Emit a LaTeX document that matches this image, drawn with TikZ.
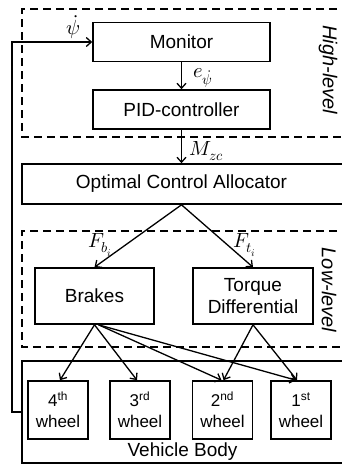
\documentclass[tikz,border=0pt]{standalone}
\usepackage{fontspec}
\usepackage{unicode-math}
\setmainfont{Liberation Sans}
\setmathfont{Latin Modern Math}
\usetikzlibrary{arrows.meta,calc}
\begin{document}
\begin{tikzpicture}[x=1pt,y=-1pt,
  blk/.style={draw,line width=1.6pt,inner sep=0pt,align=center,
    font=\fontsize{19}{22}\selectfont},
  whl/.style={draw,line width=1.6pt,inner sep=0pt,align=center,
    minimum width=60pt,minimum height=58pt,font=\fontsize{17}{21}\selectfont},
  arr/.style={line width=1.3pt,-{Straight Barb[length=5pt,width=9pt]}},
  zone/.style={line width=1.6pt,dash pattern=on 8pt off 5pt},
  zonelabel/.style={rotate=-90,font=\fontsize{20}{24}\selectfont\itshape},
  lbl/.style={font=\fontsize{19}{22}\selectfont,inner sep=0pt},
  mlbl/.style={font=\fontsize{20.5}{24}\selectfont,inner sep=0pt}
]
\useasboundingbox (0,0) rectangle (341,464);

% dashed regions
\draw[zone] (350,9) -- (22,9) -- (22,137) -- (350,137);
\draw[zone] (350,231) -- (22,231) -- (22,347) -- (350,347);
\node[zonelabel] (hl) at (328,70) {High-level};
\node[zonelabel] (ll) at (329,290) {Low-level};

% blocks
\node[blk,minimum width=177pt,minimum height=39pt] (mon) at (181.5,42) {Monitor};
\node[blk,minimum width=177pt,minimum height=39pt] (pid) at (181.5,109.5) {PID-controller};
\node[blk,minimum width=326pt,minimum height=40pt] (oca) at (185,184) {\hspace*{-7pt}Optimal Control Allocator};
\node[blk,minimum width=119pt,minimum height=56pt] (brk) at (94.5,296) {Brakes};
\node[blk,minimum width=120pt,minimum height=56pt] (td) at (253,296) {Torque\\Differential};
\node[blk,minimum width=326pt,minimum height=102pt] (vb) at (185,412) {};
\node[lbl,anchor=base] (vbt) at (182.5,456) {Vehicle Body};

% wheels
\node[whl] (w4) at (58,410) {4\textsuperscript{th}\\wheel};
\node[whl] (w3) at (140,410) {3\textsuperscript{rd}\\wheel};
\node[whl] (w2) at (222.5,410) {2\textsuperscript{nd}\\wheel};
\node[whl] (w1) at (301,410) {1\textsuperscript{st}\\wheel};

% labels
\node[mlbl] (le) at (203,78) {$e_{\dot\psi}$};
\node[mlbl] (lm) at (207,151) {$M_{zc}$};
\node[mlbl] (lfb) at (100,245) {$F_{b_i}$};
\node[mlbl] (lft) at (245,245) {$F_{t_i}$};
\node[mlbl] (lpsi) at (73,27) {$\dot\psi$};

% top chain
\draw[arr] (mon.south) -- (pid.north);
\draw[arr] (pid.south) -- (pid.south |- oca.north);

\coordinate (ocab) at (pid.south |- oca.south);
\draw[arr] (ocab) -- (brk.north);
\draw[arr] (ocab) -- (td.north);

% brakes to wheels
\draw[arr] (brk.south) -- ([xshift=2pt]w4.north);
\draw[arr] (brk.south) -- ([xshift=-3pt]w3.north);
\draw[arr] ([xshift=4pt]brk.south) -- ([xshift=-1pt]w2.north);
\draw[arr] ([xshift=4pt]brk.south) -- ([xshift=-5pt]w1.north);
% torque differential to wheels
\draw[arr] (td.south) -- ([xshift=1pt]w2.north);
\draw[arr] (td.south) -- ([xshift=-4pt]w1.north);

% feedback
\coordinate (fbc) at (12,412);
\draw[arr] (vb.west) -- (fbc) |- (mon.west);
\end{tikzpicture}
\end{document}
